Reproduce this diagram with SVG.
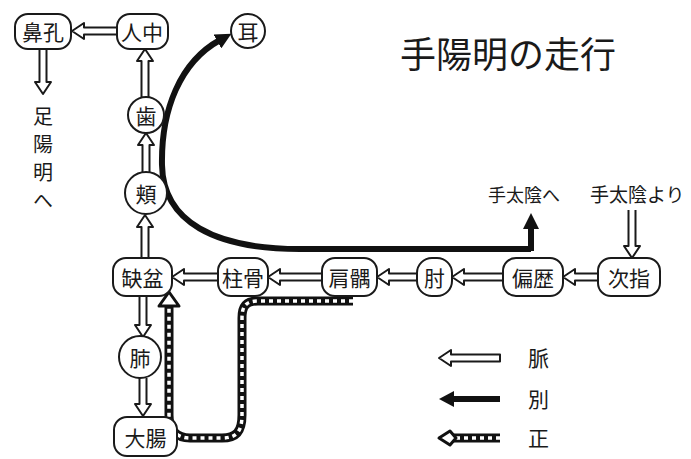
<svg xmlns="http://www.w3.org/2000/svg" width="691" height="459" viewBox="0 0 691 459">
<style>
text{font-family:"Noto Sans CJK JP","Noto Sans CJK SC",sans-serif;fill:#1a1a1a}
.n{fill:#fff;stroke:#1a1a1a;stroke-width:2}
.t{font-size:21px;text-anchor:middle;dominant-baseline:central}
.h{fill:#fff;stroke:#1a1a1a;stroke-width:2;stroke-linejoin:round}
.b{fill:none;stroke:#111;stroke-width:6;stroke-linejoin:round}
.d1{fill:none;stroke:#111;stroke-width:9}
.d2{fill:none;stroke:#fff;stroke-width:3.5;stroke-dasharray:4 4}
</style>
<defs>
<marker id="bh" markerUnits="userSpaceOnUse" markerWidth="18" markerHeight="16" refX="3" refY="8" orient="auto">
<path d="M0,0 L16,8 L0,16 z" fill="#111"/>
</marker>
</defs>
<rect width="691" height="459" fill="#fff"/>

<text x="400" y="68" font-size="36">手陽明の走行</text>
<text x="488" y="202" font-size="18">手太陰へ</text>
<text x="590" y="202" font-size="19">手太陰より</text>
<text x="43" y="106" font-size="20" writing-mode="vertical-rl" letter-spacing="8">足陽明へ</text>

<g id="connectors">
<path class="h" d="M117,27.5 L84,27.5 L84,23 L72,31 L84,39 L84,34.5 L117,34.5"/>
<path class="h" d="M39.5,49 L39.5,82 L35,82 L43,94 L51,82 L46.5,82 L46.5,49"/>
<path class="h" d="M141.5,97 L141.5,61 L137,61 L145,49 L153,61 L148.5,61 L148.5,97"/>
<path class="h" d="M142.5,172 L142.5,145 L138,145 L146,133 L154,145 L149.5,145 L149.5,172"/>
<path class="h" d="M141.5,258 L141.5,227 L137,227 L145,215 L153,227 L148.5,227 L148.5,258"/>
<path class="h" d="M218,273.5 L184,273.5 L184,269 L172,277 L184,285 L184,280.5 L218,280.5"/>
<path class="h" d="M322,273.5 L280,273.5 L280,269 L268,277 L280,285 L280,280.5 L322,280.5"/>
<path class="h" d="M417,273.5 L389,273.5 L389,269 L377,277 L389,285 L389,280.5 L417,280.5"/>
<path class="h" d="M503,273.5 L464,273.5 L464,269 L452,277 L464,285 L464,280.5 L503,280.5"/>
<path class="h" d="M598,273.5 L575,273.5 L575,269 L563,277 L575,285 L575,280.5 L598,280.5"/>
<path class="h" d="M628.5,210 L628.5,246 L624,246 L632,258 L640,246 L635.5,246 L635.5,210"/>
<path class="h" d="M139.5,296 L139.5,325 L135,325 L143,337 L151,325 L146.5,325 L146.5,296"/>
<path class="h" d="M139.5,378 L139.5,404 L135,404 L143,416 L151,404 L146.5,404 L146.5,378"/>

<path class="b" d="M531,249 L300,249 C215,249 163,222 162,165 C161,110 180,62 220,40" marker-end="url(#bh)"/>
<path class="b" d="M531,251 L531,226" marker-end="url(#bh)"/>

<path class="d1" d="M353,301 L258,301 C246,301 242,306 242,318 L242,415 C242,432 236,438 222,438 L190,438 C177,438 169,430 169,415 L169,306"/>
<path class="d2" d="M353,301 L258,301 C246,301 242,306 242,318 L242,415 C242,432 236,438 222,438 L190,438 C177,438 169,430 169,415 L169,306"/>
<path d="M169,292 L179,306 L159,306 z" fill="#fff" stroke="#111" stroke-width="3" stroke-linejoin="round"/>
</g>

<g id="n-bikou"><rect class="n" x="15" y="14" width="56" height="35" rx="13"/><text class="t" x="43" y="31">鼻孔</text></g>
<g id="n-ninchu"><rect class="n" x="117" y="14" width="51" height="35" rx="13"/><text class="t" x="142" y="31">人中</text></g>
<g id="n-mimi"><circle class="n" cx="248" cy="31" r="17"/><text class="t" x="248" y="31">耳</text></g>
<g id="n-ha"><circle class="n" cx="146" cy="115" r="18"/><text class="t" x="146" y="115">歯</text></g>
<g id="n-kyo"><circle class="n" cx="146" cy="193" r="21"/><text class="t" x="146" y="193">頬</text></g>
<g id="n-ketsubon"><rect class="n" x="113" y="258" width="59" height="38" rx="13"/><text class="t" x="142.5" y="277">缺盆</text></g>
<g id="n-chukotsu"><rect class="n" x="218" y="258" width="50" height="38" rx="13"/><text class="t" x="243" y="277">柱骨</text></g>
<g id="n-kengu"><rect class="n" x="322" y="258" width="55" height="38" rx="13"/><text class="t" x="349.5" y="277">肩髃</text></g>
<g id="n-hiji"><rect class="n" x="417" y="258" width="35" height="38" rx="15"/><text class="t" x="434.5" y="277">肘</text></g>
<g id="n-henreki"><rect class="n" x="503" y="258" width="60" height="38" rx="13"/><text class="t" x="533" y="277">偏歴</text></g>
<g id="n-jishi"><rect class="n" x="598" y="258" width="62" height="38" rx="13"/><text class="t" x="629" y="277">次指</text></g>
<g id="n-hai"><circle class="n" cx="140" cy="357" r="21"/><text class="t" x="140" y="357">肺</text></g>
<g id="n-daicho"><rect class="n" x="114" y="417" width="63" height="39" rx="13"/><text class="t" x="145.5" y="436.5">大腸</text></g>

<g id="legend">
<path class="h" d="M500,354.5 L451,354.5 L451,350 L439,358 L451,366 L451,361.5 L500,361.5 z"/>
<path d="M500,399 L454,399" stroke="#111" stroke-width="6" fill="none"/>
<path d="M439,399 L454,391 L454,407 z" fill="#111"/>
<path class="d1" d="M500,438 L452,438"/>
<path class="d2" d="M500,438 L452,438"/>
<path d="M439,438 L450,431 L456,438 L450,445 z" fill="#fff" stroke="#111" stroke-width="3" stroke-linejoin="round"/>
<text x="528" y="366" font-size="21">脈</text>
<text x="528" y="407" font-size="21">別</text>
<text x="528" y="446" font-size="21">正</text>
</g>
</svg>
